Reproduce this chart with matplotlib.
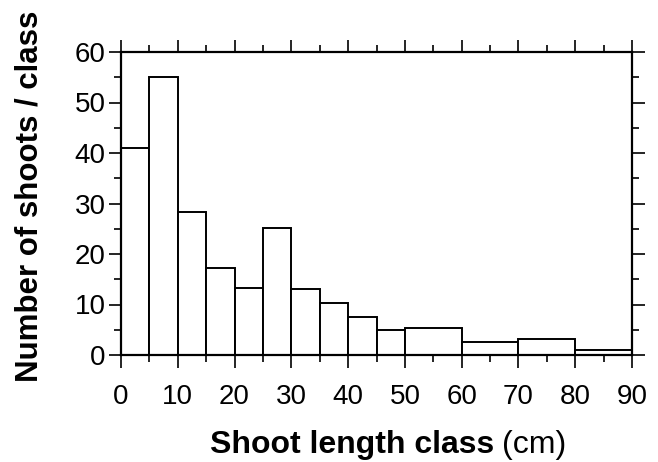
import matplotlib
matplotlib.use("Agg")
import matplotlib.pyplot as plt
from matplotlib.ticker import MultipleLocator

# Data
bin_edges = [0, 5, 10, 15, 20, 25, 30, 35, 40, 45, 50, 60, 70, 80, 90]
counts = [41, 55, 28.3, 17.3, 13.3, 25.1, 13, 10.3, 7.5, 5, 5.4, 2.5, 3.2, 0.9]
x_ticks = [0, 10, 20, 30, 40, 50, 60, 70, 80, 90]
y_ticks = [0, 10, 20, 30, 40, 50, 60]

plt.rcParams['font.family'] = ['Liberation Sans', 'DejaVu Sans']

fig = plt.figure(figsize=(6.58, 4.62), dpi=100)
ax = fig.add_axes([121/658, 1 - 355/462, (632-121)/658, (355-52)/462])

lefts = bin_edges[:-1]
widths = [b - a for a, b in zip(bin_edges[:-1], bin_edges[1:])]
ax.bar(lefts, counts, width=widths, align='edge', facecolor='white',
       edgecolor='black', linewidth=1.4, zorder=2)

ax.set_xlim(0, 90)
ax.set_ylim(0, 60)
ax.set_xticks(x_ticks)
ax.set_yticks(y_ticks)
ax.xaxis.set_minor_locator(MultipleLocator(5))
ax.yaxis.set_minor_locator(MultipleLocator(5))

for s in ax.spines.values():
    s.set_linewidth(1.6)

ax.tick_params(which='both', direction='out', top=True, right=True,
               labeltop=False, labelright=False, width=1.2, color='black')
ax.tick_params(which='major', length=9)
ax.tick_params(which='minor', length=5)
ax.tick_params(axis='x', which='major', labelsize=20, pad=12)
ax.tick_params(axis='y', which='major', labelsize=20, pad=2)

ax.set_ylabel('Number of shoots / class', fontsize=22.5, fontweight='bold', labelpad=22)
ax.yaxis.label.set_y(0.525)

fig.text(494/658, 1 - 453/462, 'Shoot length class', fontsize=23, fontweight='bold',
         ha='right', va='baseline')
fig.text(502/658, 1 - 453/462, '(cm)', fontsize=23, fontweight='normal',
         ha='left', va='baseline')

fig.savefig('out.png', dpi=100)
